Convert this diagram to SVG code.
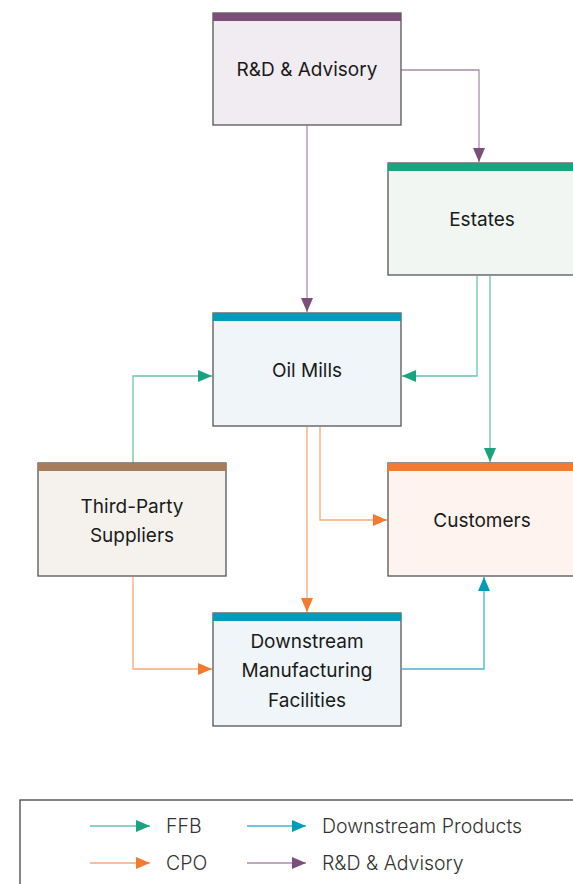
<svg xmlns="http://www.w3.org/2000/svg" width="573" height="884" viewBox="0 0 573 884">
<defs>
<style>
.box{stroke:#555;stroke-width:1.3}
.lbl{font-family:Inter,"Liberation Sans",sans-serif;font-size:19px;fill:#1a1a1a;text-anchor:middle}
.leg{font-family:Inter,"Liberation Sans",sans-serif;font-size:19.5px;font-weight:300;fill:#333}
.c{fill:none;stroke-width:1.3}
.ffb{stroke:#1aa37f;stroke-opacity:.65}
.cpo{stroke:#f47a30;stroke-opacity:.65}
.ds{stroke:#009dbb;stroke-opacity:.75}
.rd{stroke:#7b4f78;stroke-opacity:.65}
</style>
<marker id="aG" viewBox="0 0 14 12" refX="14" refY="6" markerWidth="14" markerHeight="12" markerUnits="userSpaceOnUse" orient="auto"><path d="M0,0L14,6L0,12Z" fill="#1aa37f"/></marker>
<marker id="aO" viewBox="0 0 14 12" refX="14" refY="6" markerWidth="14" markerHeight="12" markerUnits="userSpaceOnUse" orient="auto"><path d="M0,0L14,6L0,12Z" fill="#f47a30"/></marker>
<marker id="aB" viewBox="0 0 14 12" refX="14" refY="6" markerWidth="14" markerHeight="12" markerUnits="userSpaceOnUse" orient="auto"><path d="M0,0L14,6L0,12Z" fill="#009dbb"/></marker>
<marker id="aP" viewBox="0 0 14 12" refX="14" refY="6" markerWidth="14" markerHeight="12" markerUnits="userSpaceOnUse" orient="auto"><path d="M0,0L14,6L0,12Z" fill="#7b4f78"/></marker>
</defs>
<rect width="573" height="884" fill="#fff"/>
<g id="connectors">
<path class="c rd" d="M401,70H479V162" marker-end="url(#aP)"/>
<path class="c rd" d="M307,126V312" marker-end="url(#aP)"/>
<path class="c ffb" d="M477,276V376H402" marker-end="url(#aG)"/>
<path class="c ffb" d="M490,276V462" marker-end="url(#aG)"/>
<path class="c ffb" d="M133,463V376H212" marker-end="url(#aG)"/>
<path class="c cpo" d="M320,427V520H387" marker-end="url(#aO)"/>
<path class="c cpo" d="M307,427V612" marker-end="url(#aO)"/>
<path class="c cpo" d="M133,577V669H212" marker-end="url(#aO)"/>
<path class="c ds" d="M402,669H484V577" marker-end="url(#aB)"/>
</g>
<g id="rd">
<rect class="box" x="213" y="13" width="188" height="112" fill="#f1ecf1"/>
<rect x="213" y="13" width="188" height="8" fill="#7b4f78"/>
<text class="lbl" x="307" y="76">R&amp;D &amp; Advisory</text>
</g>
<g id="estates">
<rect class="box" x="388" y="163" width="190" height="112" fill="#f1f6f2"/>
<rect x="388" y="163" width="190" height="8" fill="#1aa37f"/>
<text class="lbl" x="482" y="226">Estates</text>
</g>
<g id="oilmills">
<rect class="box" x="213" y="313" width="188" height="113" fill="#eff5f8"/>
<rect x="213" y="313" width="188" height="8" fill="#009dbb"/>
<text class="lbl" x="307" y="377">Oil Mills</text>
</g>
<g id="thirdparty">
<rect class="box" x="38" y="463" width="188" height="113" fill="#f5f2ee"/>
<rect x="38" y="463" width="188" height="8" fill="#a87b5a"/>
<text class="lbl" x="132" y="513">Third-Party</text>
<text class="lbl" x="132" y="542">Suppliers</text>
</g>
<g id="customers">
<rect class="box" x="388" y="463" width="190" height="113" fill="#fef3ee"/>
<rect x="388" y="463" width="190" height="8" fill="#f47a30"/>
<text class="lbl" x="482" y="527">Customers</text>
</g>
<g id="downstream">
<rect class="box" x="213" y="613" width="188" height="113" fill="#eff5f8"/>
<rect x="213" y="613" width="188" height="8" fill="#009dbb"/>
<text class="lbl" x="307" y="648">Downstream</text>
<text class="lbl" x="307" y="677">Manufacturing</text>
<text class="lbl" x="307" y="707">Facilities</text>
</g>
<g id="legend">
<rect x="20" y="800" width="560" height="100" fill="#fff" stroke="#444" stroke-width="1.3"/>
<path class="c ffb" d="M90,826H150" marker-end="url(#aG)"/>
<text class="leg" x="166" y="833">FFB</text>
<path class="c ds" d="M247,826H306" marker-end="url(#aB)"/>
<text class="leg" x="322" y="833">Downstream Products</text>
<path class="c cpo" d="M90,863H150" marker-end="url(#aO)"/>
<text class="leg" x="166" y="870">CPO</text>
<path class="c rd" d="M247,863H306" marker-end="url(#aP)"/>
<text class="leg" x="322" y="870">R&amp;D &amp; Advisory</text>
</g>
</svg>
